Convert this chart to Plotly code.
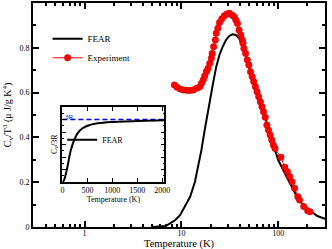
import plotly.graph_objects as go

# Main panel: FEAR curve (C_v/T^3)
fear_T = [5.0, 6.86, 7.7, 8.66, 9.72, 10.9, 12.3, 13.8, 14.9, 16.1, 17.4, 18.1, 19.6, 21.2, 22.9,
          24.7, 26.7, 28.9, 31.2, 33.7, 36.5, 39.4, 42.6, 46.0, 51.7, 58.1, 65.3, 73.3, 82.4,
          92.6, 100.0, 116.9, 136.7, 159.3, 186.2, 217.8, 254.0, 304.0]
fear_C = [0.0, 0.004, 0.017, 0.031, 0.054, 0.091, 0.135, 0.202, 0.269, 0.344, 0.433, 0.478, 0.567,
          0.641, 0.716, 0.768, 0.805, 0.835, 0.853, 0.860, 0.857, 0.842, 0.812, 0.775, 0.693,
          0.626, 0.559, 0.49, 0.41, 0.339, 0.299, 0.240, 0.180, 0.128, 0.091, 0.068, 0.049, 0.036]

# Main panel: experiment
exp_T = [8.46, 9.0, 9.72, 10.5, 11.4, 12.3, 13.3, 14.4, 15.5, 16.1, 16.8, 17.4, 18.1, 18.8, 19.6,
         20.4, 20.8, 21.5, 22.4, 22.9, 23.8, 24.7, 26.1, 27.8, 29.6, 31.2, 33.2, 35.1, 36.5,
         37.9, 39.4, 41.0, 42.6, 43.2, 44.2, 46.0, 47.9, 49.7, 51.7, 53.8, 55.8, 58.1, 60.4,
         62.8, 65.3, 67.9, 70.5, 73.3, 76.3, 79.2, 82.4, 85.7, 89.0, 92.6, 106.5, 116.9, 124.5,
         131.3, 138.6, 147.6, 159.3, 165.8, 183.4, 201.2, 212.8]
exp_C = [0.634, 0.624, 0.616, 0.612, 0.610, 0.609, 0.612, 0.619, 0.626, 0.641, 0.656, 0.674, 0.693,
         0.708, 0.730, 0.753, 0.775, 0.805, 0.835, 0.865, 0.887, 0.912, 0.929, 0.943, 0.951,
         0.954, 0.946, 0.939, 0.924, 0.909, 0.879, 0.857, 0.835, 0.820, 0.797, 0.775, 0.746,
         0.723, 0.693, 0.671, 0.649, 0.626, 0.604, 0.582, 0.559, 0.537, 0.515, 0.490, 0.455,
         0.433, 0.411, 0.388, 0.366, 0.351, 0.311, 0.267, 0.247, 0.225, 0.202, 0.173, 0.135,
         0.121, 0.091, 0.073, 0.068]

# Inset: C_v/3R vs T
inset_T = [0, 34, 50, 101, 169, 236, 302, 403, 504, 706, 976, 1512, 2040]
inset_C = [0.0, 0.032, 0.07, 0.245, 0.512, 0.672, 0.779, 0.859, 0.901, 0.939, 0.960, 0.976, 0.987]
three_R_T = [0, 2040]
three_R_C = [1.0, 1.0]

main_xticks = [1, 10, 100]
main_xticklabels = ["1", "10", "100"]
main_xminor = [0.3, 0.4, 0.5, 0.6, 0.7, 0.8, 0.9, 2, 3, 4, 5, 6, 7, 8, 9,
               20, 30, 40, 50, 60, 70, 80, 90, 200, 300]

FONT = "'Liberation Serif', 'Times New Roman', serif"

fig = go.Figure()
fig.add_trace(go.Scatter(x=fear_T, y=fear_C, mode="lines", name="FEAR",
                         line=dict(color="black", width=2), xaxis="x", yaxis="y", legend="legend"))
fig.add_trace(go.Scatter(x=exp_T, y=exp_C, mode="lines+markers", name="Experiment",
                         line=dict(color="red", width=1),
                         marker=dict(color="red", size=6.5, line=dict(color="#d00000", width=0.5)),
                         xaxis="x", yaxis="y", legend="legend"))
fig.add_trace(go.Scatter(x=three_R_T, y=three_R_C, mode="lines", showlegend=False,
                         line=dict(color="#0000ff", width=1.5, dash="5px,3px"), xaxis="x2", yaxis="y2"))
fig.add_trace(go.Scatter(x=inset_T, y=inset_C, mode="lines", name="FEAR", line_shape="spline",
                         line=dict(color="black", width=2), xaxis="x2", yaxis="y2", legend="legend2"))

axis_common = dict(showgrid=False, zeroline=False, showline=True, linecolor="black",
                   mirror="allticks", ticks="inside", tickcolor="black")

fig.update_layout(
    width=332, height=249,
    margin=dict(l=33, r=1, t=3, b=22),
    paper_bgcolor="white", plot_bgcolor="white",
    font=dict(family=FONT, color="black", size=9),
    xaxis=dict(type="log", range=[-0.533, 2.483], tickvals=main_xticks, ticktext=main_xticklabels,
               ticklen=6, tickwidth=1.5, linewidth=2, tickfont=dict(size=8), ticklabelstandoff=-3,
               minor=dict(tickvals=main_xminor, ticks="inside", ticklen=3, tickcolor="black"),
               **axis_common),
    yaxis=dict(range=[0, 1], dtick=0.2, ticklen=6, tickwidth=1.5, linewidth=2,
               tickfont=dict(size=8),
               minor=dict(dtick=0.1, ticks="inside", ticklen=3, tickcolor="black"),
               **axis_common),
    xaxis2=dict(domain=[0.1007, 0.4497], anchor="y2", range=[0, 2040], dtick=500,
                ticklen=4, linewidth=1.5, tickfont=dict(size=8),
                title=dict(text="Temperature (K)", font=dict(size=8), standoff=2),
                **axis_common),
    yaxis2=dict(domain=[0.2009, 0.5357], anchor="x2", range=[0, 1.2], dtick=0.2,
                showticklabels=False, ticklen=4, linewidth=1.5,
                minor=dict(dtick=0.1, ticks="inside", ticklen=2, tickcolor="black"),
                **axis_common),
    legend=dict(x=0.05, y=0.905, xanchor="left", yanchor="top", bgcolor="rgba(0,0,0,0)",
                font=dict(size=9), tracegroupgap=0, itemwidth=30),
    legend2=dict(x=0.10, y=0.39, xanchor="left", yanchor="middle", bgcolor="rgba(0,0,0,0)",
                 font=dict(size=8), itemwidth=30),
    annotations=[
        dict(text="Temperature (K)", xref="paper", yref="paper", x=0.5, y=-0.076,
             xanchor="center", yanchor="middle", showarrow=False, font=dict(size=10.5)),
        dict(text="C<sub>v</sub>/T<sup>3</sup> (μ J/g K<sup>4</sup>)", xref="paper", yref="paper",
             x=-0.085, y=0.5, xanchor="center", yanchor="middle", textangle=-90,
             showarrow=False, font=dict(size=10)),
        dict(text="C<sub>v</sub>/3R", xref="paper", yref="paper",
             x=0.075, y=0.37, xanchor="center", yanchor="middle", textangle=-90,
             showarrow=False, font=dict(size=8)),
        dict(text="3R", xref="x2", yref="y2", x=150, y=1.0, xanchor="center", yanchor="bottom",
             showarrow=False, font=dict(size=7, color="#0000ff"), yshift=-3),
    ],
)

fig.write_html("out.html", config={"displayModeBar": False},
               post_script="document.body.style.margin='0';document.body.style.padding='0';")
